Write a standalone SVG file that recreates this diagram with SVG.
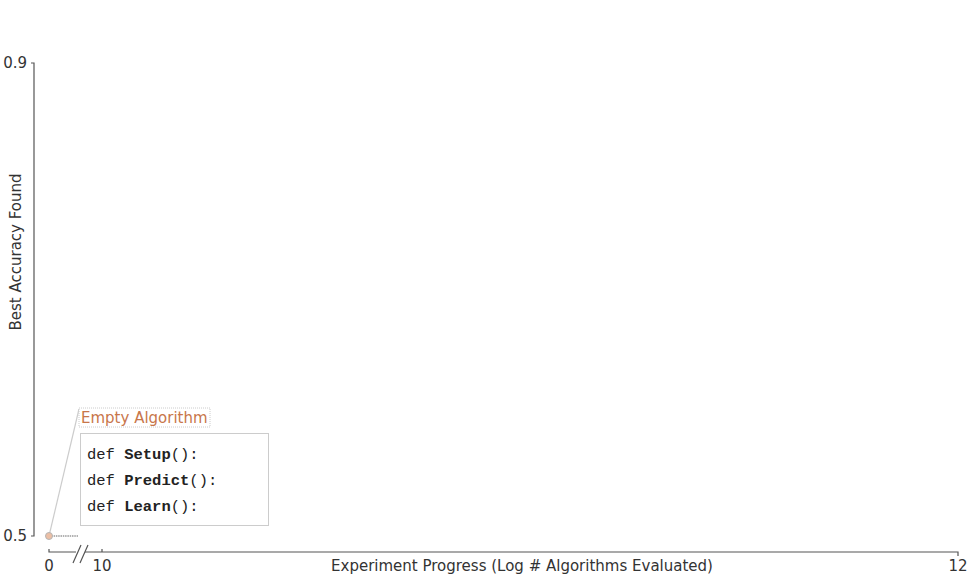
<svg xmlns="http://www.w3.org/2000/svg" width="972" height="576" viewBox="0 0 972 576">
<style>
.lbl{font-family:"DejaVu Sans",sans-serif;font-size:15px;fill:#333}
.ax{stroke:#555;stroke-width:1.2;fill:none}
.code{font-family:"Liberation Mono","DejaVu Sans Mono",monospace;font-size:15.5px;fill:#222}
</style>
<rect width="972" height="576" fill="#fff"/>
<g id="axes">
<path class="ax" d="M31,63H34V536H31"/>
<path class="ax" d="M49,549V552H76M85,552H958V556M102,552V549"/>
<path class="ax" d="M73,563L81,545M80,563L88,545"/>
<text class="lbl" x="27" y="68" text-anchor="end">0.9</text>
<text class="lbl" x="27" y="541" text-anchor="end">0.5</text>
<text class="lbl" x="49" y="571" text-anchor="middle">0</text>
<text class="lbl" x="102" y="571" text-anchor="middle">10</text>
<text class="lbl" x="958" y="571" text-anchor="middle">12</text>
<text class="lbl" x="522" y="571" text-anchor="middle">Experiment Progress (Log # Algorithms Evaluated)</text>
<text class="lbl" transform="translate(21,252) rotate(-90)" text-anchor="middle">Best Accuracy Found</text>
</g>
<g id="connectors">
<line x1="49" y1="536" x2="79" y2="409" stroke="#ccc" stroke-width="1.2"/>
<line x1="49" y1="536" x2="78" y2="536" stroke="#999" stroke-width="1.5" stroke-dasharray="1.5,0.8"/>
</g>
<g id="point">
<circle cx="49" cy="536" r="3.5" fill="#ecbfa5" stroke="#b5b5b5" stroke-width="1"/>
</g>
<g id="label">
<rect x="79" y="408" width="131" height="19" fill="#fff" stroke="#ccc" stroke-width="1" stroke-dasharray="1,1"/>
<text x="81" y="423" style="font-family:'DejaVu Sans',sans-serif;font-size:15px;fill:#c8764a">Empty Algorithm</text>
</g>
<g id="code">
<rect x="80.5" y="433.5" width="188" height="92" fill="#fff" stroke="#ccc" stroke-width="1"/>
<text class="code" x="87" y="459">def <tspan font-weight="bold">Setup</tspan>():</text>
<text class="code" x="87" y="485">def <tspan font-weight="bold">Predict</tspan>():</text>
<text class="code" x="87" y="511">def <tspan font-weight="bold">Learn</tspan>():</text>
</g>
</svg>
